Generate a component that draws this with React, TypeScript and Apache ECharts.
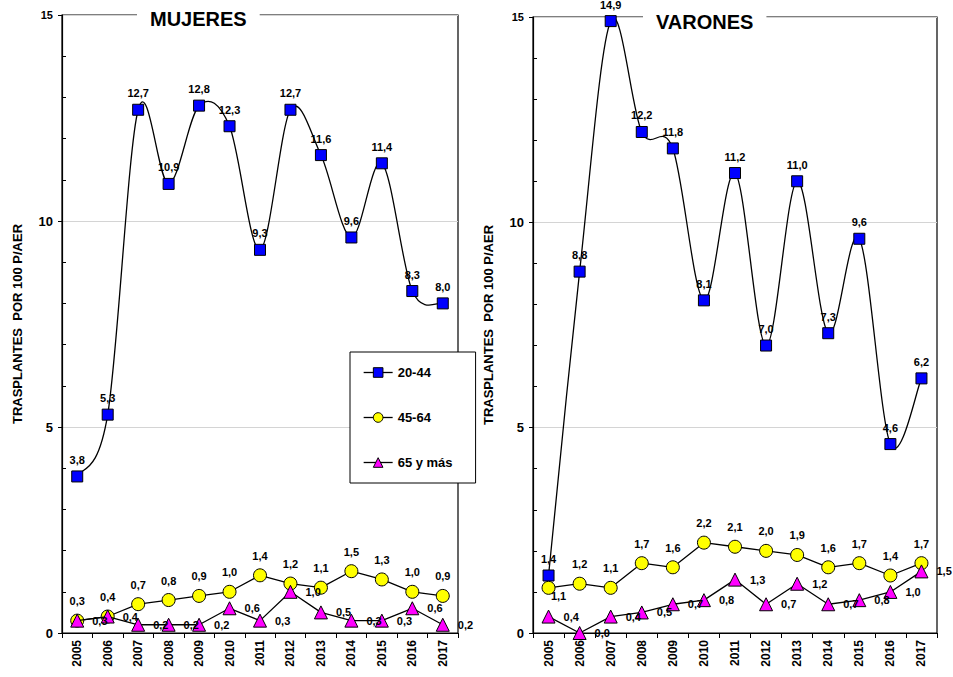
import React, { useEffect, useRef } from "react";
import * as echarts from "echarts";

// Años del eje horizontal
const years = ["2005", "2006", "2007", "2008", "2009", "2010", "2011", "2012", "2013", "2014", "2015", "2016", "2017"];

// Grupos de edad
const groupNames = ["20-44", "45-64", "65 y más"];

// MUJERES – trasplantes por 100 pacientes en AER
const mujeres2044 = [3.8, 5.3, 12.7, 10.9, 12.8, 12.3, 9.3, 12.7, 11.6, 9.6, 11.4, 8.3, 8.0];
const mujeres4564 = [0.3, 0.4, 0.7, 0.8, 0.9, 1.0, 1.4, 1.2, 1.1, 1.5, 1.3, 1.0, 0.9];
const mujeres65 = [0.3, 0.4, 0.2, 0.2, 0.2, 0.6, 0.3, 1.0, 0.5, 0.3, 0.3, 0.6, 0.2];

// VARONES – trasplantes por 100 pacientes en AER
const varones2044 = [1.4, 8.8, 14.9, 12.2, 11.8, 8.1, 11.2, 7.0, 11.0, 7.3, 9.6, 4.6, 6.2];
const varones4564 = [1.1, 1.2, 1.1, 1.7, 1.6, 2.2, 2.1, 2.0, 1.9, 1.6, 1.7, 1.4, 1.7];
const varones65 = [0.4, 0.0, 0.4, 0.5, 0.7, 0.8, 1.3, 0.7, 1.2, 0.7, 0.8, 1.0, 1.5];

// Eje Y
const yMin = 0;
const yMax = 15;
const yStep = 5;
const yAxisTitle = "TRASPLANTES  POR 100 P/AER";

const FONT = "'Liberation Sans', Arial, sans-serif";

const fmt = (v: number) => v.toFixed(1).replace(".", ",");

const labelBase = {
  show: true,
  color: "#000",
  fontFamily: FONT,
  fontWeight: "bold" as const,
  fontSize: 11,
  formatter: (p: any) => fmt(typeof p.value === "number" ? p.value : p.value[1]),
};

// Catmull-Rom style curve through the points (ends reuse the end point as neighbour)
function smoothCurve(name: string, gridIdx: number, values: number[]) {
  const n = values.length;
  const clamp = (j: number) => Math.max(0, Math.min(n - 1, j));
  return {
    name,
    type: "custom",
    xAxisIndex: gridIdx,
    yAxisIndex: gridIdx * 2,
    data: values.map((v, i) => [i, v]),
    encode: { x: 0, y: 1 },
    silent: true,
    z: 2,
    renderItem: (params: any, api: any) => {
      const i = params.dataIndex;
      if (i >= n - 1) return null;
      const pt = (j: number) => api.coord([clamp(j), values[clamp(j)]]);
      const p0 = pt(i - 1);
      const p1 = pt(i);
      const p2 = pt(i + 1);
      const p3 = pt(i + 2);
      return {
        type: "bezierCurve",
        shape: {
          x1: p1[0],
          y1: p1[1],
          x2: p2[0],
          y2: p2[1],
          cpx1: p1[0] + (p2[0] - p0[0]) / 6,
          cpy1: p1[1] + (p2[1] - p0[1]) / 6,
          cpx2: p2[0] - (p3[0] - p1[0]) / 6,
          cpy2: p2[1] - (p3[1] - p1[1]) / 6,
        },
        style: { stroke: "#000", lineWidth: 1.3, fill: null },
      };
    },
  };
}

function buildSeries(gridIdx: number, s1: number[], s2: number[], s3: number[], yellowFirstBelow: boolean) {
  const xAxisIndex = gridIdx;
  const yAxisIndex = gridIdx * 2;
  return [
    smoothCurve(groupNames[0] + " (curva)", gridIdx, s1),
    {
      name: groupNames[0],
      type: "line",
      xAxisIndex,
      yAxisIndex,
      data: s1,
      symbol: "rect",
      symbolSize: 11,
      lineStyle: { color: "#000", width: 1.3, opacity: 0 },
      itemStyle: { color: "#0000ff", borderColor: "#000", borderWidth: 1 },
      label: { ...labelBase, position: "top", distance: 5 },
      z: 3,
    },
    {
      name: groupNames[1],
      type: "line",
      xAxisIndex,
      yAxisIndex,
      data: s2.map((v, i) =>
        yellowFirstBelow && i === 0
          ? { value: v, label: { position: "bottom", distance: 0, offset: [10, -4] } }
          : v
      ),
      symbol: "circle",
      symbolSize: 13,
      lineStyle: { color: "#000", width: 1.3 },
      itemStyle: { color: "#ffff00", borderColor: "#000", borderWidth: 1 },
      label: { ...labelBase, position: "top", distance: 7 },
      z: 4,
    },
    {
      name: groupNames[2],
      type: "line",
      xAxisIndex,
      yAxisIndex,
      data: s3,
      symbol: "triangle",
      symbolSize: 13,
      lineStyle: { color: "#000", width: 1.3 },
      itemStyle: { color: "#ff00ff", borderColor: "#000", borderWidth: 1 },
      label: { ...labelBase, position: "right", distance: 8 },
      z: 5,
    },
  ];
}

function buildAxes(gridIdx: number) {
  const xAxis = {
    type: "category",
    gridIndex: gridIdx,
    data: years,
    boundaryGap: true,
    axisLine: { lineStyle: { color: "#000", width: 1.2 } },
    axisTick: { show: true, alignWithLabel: false, interval: 0, length: 5, lineStyle: { color: "#000" } },
    axisLabel: {
      interval: 0,
      rotate: 90,
      margin: 7,
      color: "#000",
      fontFamily: FONT,
      fontWeight: "bold",
      fontSize: 12,
    },
    splitLine: { show: false },
  };
  const yMain = {
    type: "value",
    gridIndex: gridIdx,
    position: "left",
    min: yMin,
    max: yMax,
    interval: yStep,
    name: yAxisTitle,
    nameLocation: "middle",
    nameRotate: 90,
    nameGap: 38,
    nameTextStyle: { color: "#000", fontFamily: FONT, fontWeight: "bold", fontSize: 13 },
    axisLine: { show: true, lineStyle: { color: "#000", width: 1.2 } },
    axisTick: { show: true, length: 4, lineStyle: { color: "#000" } },
    axisLabel: {
      color: "#000",
      fontFamily: FONT,
      fontWeight: "bold",
      fontSize: 13,
      margin: 9,
      formatter: (v: number) => (v === yMax ? `{s|${v}}` : `${v}`),
      rich: { s: { fontFamily: FONT, fontWeight: "bold", fontSize: 11, color: "#000" } },
    },
    splitLine: { show: true, lineStyle: { color: "#d4d4d4", width: 1 } },
  };
  // Second overlaid axis that only carries the inner minor ticks
  const yMinor = {
    type: "value",
    gridIndex: gridIdx,
    position: "left",
    min: yMin,
    max: yMax,
    interval: yStep,
    axisLine: { show: false },
    axisTick: { show: false, inside: true },
    minorTick: { show: true, splitNumber: 5, length: 4, lineStyle: { color: "#000", width: 1 } },
    axisLabel: { show: false },
    splitLine: { show: false },
  };
  return { xAxis, yAxes: [yMain, yMinor] };
}

function titleBox(text: string, left: number, top: number) {
  return {
    text,
    left,
    top,
    padding: [2, 13],
    backgroundColor: "#fff",
    textStyle: { color: "#000", fontFamily: FONT, fontWeight: "bold", fontSize: 20 },
  };
}

export default function App() {
  const ref = useRef<HTMLDivElement>(null);

  useEffect(() => {
    if (!ref.current) return;
    const chart = echarts.init(ref.current, undefined, { renderer: "svg" });

    const a0 = buildAxes(0);
    const a1 = buildAxes(1);
    const legendLine = { color: "#000", width: 1.3, opacity: 1 };

    chart.setOption({
      animation: false,
      backgroundColor: "#fff",
      title: [titleBox("MUJERES", 137, 7), titleBox("VARONES", 643, 10)],
      legend: {
        orient: "vertical",
        left: 350,
        top: 352,
        data: groupNames.map((name) => ({ name, lineStyle: legendLine })),
        padding: [14, 23, 14, 13],
        itemGap: 32,
        itemWidth: 29,
        itemHeight: 12,
        itemStyle: { borderColor: "#000", borderWidth: 1 },
        backgroundColor: "#fff",
        borderColor: "#000",
        borderWidth: 1,
        borderRadius: 0,
        textStyle: { color: "#000", fontFamily: FONT, fontWeight: "bold", fontSize: 13 },
        z: 10,
      },
      grid: [
        { left: 62, top: 15, width: 396, height: 618, show: true, borderColor: "#000", borderWidth: 1.2, backgroundColor: "transparent" },
        { left: 533, top: 17, width: 404, height: 616, show: true, borderColor: "#000", borderWidth: 1.2, backgroundColor: "transparent" },
      ],
      xAxis: [a0.xAxis, a1.xAxis],
      yAxis: [...a0.yAxes, ...a1.yAxes],
      series: [
        ...buildSeries(0, mujeres2044, mujeres4564, mujeres65, false),
        ...buildSeries(1, varones2044, varones4564, varones65, true),
      ],
    });

    return () => chart.dispose();
  }, []);

  return (
    <div
      ref={ref}
      style={{ position: "absolute", left: 0, top: 0, width: 953, height: 677, background: "#fff" }}
    />
  );
}
